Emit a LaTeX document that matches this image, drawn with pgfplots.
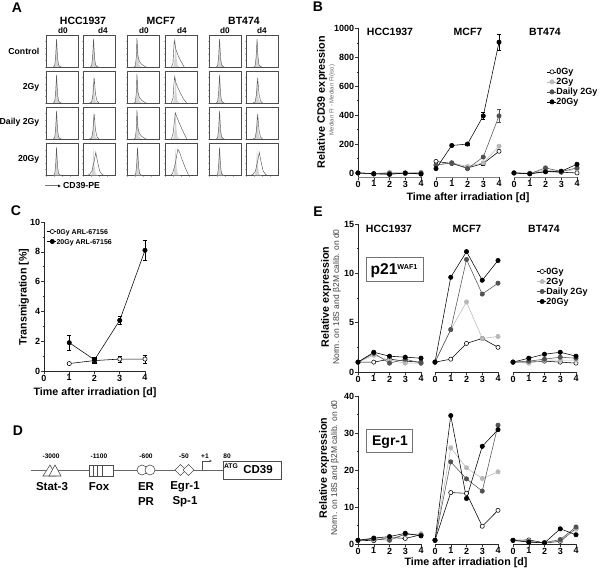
\documentclass[border=0pt]{standalone}
\usepackage{pgfplots}
\pgfplotsset{compat=1.18}
\usepackage{pgfplotstable}
\usepackage{fontspec}
\setmainfont{Liberation Sans}
\usetikzlibrary{arrows.meta}
\newcommand\fs[1]{\fontsize{#1}{#1}\selectfont}

% panel A histograms: isotype fill and CD39 outline, x and y in percent of the box
\pgfplotstableread{
x y
23 0
27 4
30 30
33 88
36 30
39 7
43 2
48 0
}\hN
\pgfplotstableread{
x y
20 0
27 3
31 25
35 78
39 28
44 6
50 0
}\hW
\pgfplotstableread{
x y
12 0
20 3
28 14
36 50
40 72
44 50
52 14
60 3
66 0
}\hB
\pgfplotstableread{
x y
22 0
26 3
29 30
31 90
34 35
39 17
46 8
54 3
60 0
}\hT
\pgfplotstableread{
x y
20 0
25 12
27 50
29 84
34 55
42 33
52 14
60 0
}\hU
\pgfplotstableread{
x y
20 0
25 15
28 60
30 82
35 60
46 35
58 12
68 0
}\hV
\pgfplotstableread{
x y
20 0
25 15
30 60
32 82
38 66
48 42
60 16
68 0
}\hX
\pgfplotstableread{
x y
18 0
24 8
32 36
40 82
46 72
54 48
66 18
74 0
}\hY

% panel B, relative CD39
\pgfplotstableread{
d a b c e
0 0 0 0 0
1 -5 -5 -8 -5
2 -6 5 -2 -10
3 -2 0 -3 0
4 -5 5 0 -8
}\bH
\pgfplotstableread{
d a b c e ea eb ec ee
0 80 55 55 30 5 5 5 5
1 65 70 70 190 5 5 5 8
2 35 45 30 200 5 5 5 8
3 65 70 110 395 8 8 8 25
4 150 185 395 905 8 8 45 55
}\bM
\pgfplotstableread{
d a b c e
0 0 0 0 0
1 -5 0 -5 -6
2 10 20 35 8
3 5 10 10 12
4 0 25 35 60
}\bB

% panel C
\pgfplotstableread{
d a ea e ee
1 0.5 0.05 1.9 0.5
2 0.7 0.15 0.75 0.15
3 0.8 0.2 3.4 0.25
4 0.8 0.25 8.1 0.65
}\cT

% panel E, p21
\pgfplotstableread{
d a b c e
0 1 1 1 1
1 1 1.7 1.9 2.0
2 1.3 1.2 0.9 1.6
3 1.1 0.9 1.3 1.5
4 1.0 0.9 0.9 1.4
}\pH
\pgfplotstableread{
d a b c e
0 1 1 1 1
1 1.3 4.3 4.3 9.6
2 2.9 7.1 11.4 12.2
3 3.4 3.4 7.9 9.3
4 2.5 3.6 9.0 11.3
}\pM
\pgfplotstableread{
d a b c e
0 1 1 1 1
1 1 0.9 1.1 1.4
2 1.1 1.2 1.3 1.8
3 1.0 1.2 1.5 2.0
4 0.9 1.2 1.4 1.6
}\pB

% panel E, Egr-1
\pgfplotstableread{
d a b c e
0 1 1 1 1
1 0.9 1.3 1.4 1.6
2 1.8 1.5 1.0 2.0
3 1.5 2.5 2.7 2.9
4 2.5 2.8 2.4 2.2
}\eH
\pgfplotstableread{
d a b c e
0 1 1 1 1
1 13.9 26 22.2 34.7
2 13.7 20.6 17.6 12.3
3 4.8 17.7 14.3 26.4
4 9.1 19.5 32.1 30.9
}\eM
\pgfplotstableread{
d a b c e
0 1 1 1 1
1 1.1 0.8 0.6 0.5
2 0.3 0.3 0.4 0.3
3 0.7 1.0 1.2 4.1
4 4.2 4.0 4.6 2.5
}\eB

\pgfplotsset{
  histax/.style={
    scale only axis, width=32pt, height=32pt, anchor=south west,
    xmin=0, xmax=100, ymin=0, ymax=100,
    xtick={0,25,50,75}, ytick={0,20,40,60,80},
    xticklabels={}, yticklabels={},
    tick pos=left, tick align=outside, major tick length=1.2pt,
    tick style={gray!60, line width=0.3pt},
    axis line style={black!70, line width=0.8pt},
  },
  lineax/.style={
    scale only axis, anchor=south west, clip=false,
    xmin=0, xmax=4, xtick={0,1,2,3,4}, minor x tick num=1,
    tick align=outside, major tick length=2.6pt, minor tick length=1.4pt,
    tick style={black!80, line width=0.5pt},
    axis line style={black!85, line width=0.6pt},
    axis x line*=bottom,
    tick label style={font=\bfseries\fs{9}, inner sep=1pt},
    /pgf/number format/assume math mode=true,
    /pgf/number format/1000 sep={},
    xtick pos=lower,
  },
  yon/.style={axis y line*=left, ytick pos=left},
  yoff/.style={axis y line=none},
  grayx/.style={x axis line style={black!50, line width=0.9pt}},
  s0/.style={black, line width=0.55pt, mark=*, mark size=2.1pt, mark options={fill=white, draw=black}},
  s2/.style={black!28, line width=0.55pt, mark=*, mark size=2.2pt, mark options={fill=black!28, draw=black!28}},
  sd/.style={black!68, line width=0.55pt, mark=*, mark size=2.2pt, mark options={fill=black!68, draw=black!68}},
  s20/.style={black, line width=0.55pt, mark=*, mark size=2.2pt, mark options={fill=black, draw=black}},
  legbox/.style={
    legend style={draw=none, fill=none, font=\bfseries\fs{#1}, inner sep=0pt, outer sep=0pt,
      row sep=2pt, nodes={inner sep=0pt, text height=6.5pt, text depth=1.5pt},
      /tikz/every even column/.append style={column sep=2pt}},
    legend cell align=left,
    legend image code/.code={
      \draw[mark repeat=2,mark phase=2,##1] plot coordinates {(-2pt,0pt) (3pt,0pt) (7pt,0pt)};
    },
  },
}
\newcommand\hist[4]{%
  \begin{axis}[histax, at={(#1pt,{570pt-#2pt})}]
    \addplot[fill=black!16, draw=none] table[x=x,y=y] {\hN} \closedcycle;
    \ifx#3\hN\else\ifx#3\hT\else
      \addplot[fill=black!16, draw=none] table[x=x,y=y] {#4} \closedcycle;
    \fi\fi
    \addplot[black!65, line width=0.45pt] table[x=x,y=y] {#3};
  \end{axis}}
\newcommand\series[1]{%
  \addplot[s0] table[x=d,y=a] {#1};
  \addplot[s2] table[x=d,y=b] {#1};
  \addplot[sd] table[x=d,y=c] {#1};
  \addplot[s20] table[x=d,y=e] {#1};}

\begin{document}
\begin{tikzpicture}
\path[use as bounding box] (0pt,0pt) rectangle (600pt,570pt);

% A
\hist{46}{67}{\hN}{\hN}  \hist{83}{67}{\hN}{\hN}  \hist{127}{67}{\hT}{\hN}  \hist{165}{67}{\hU}{\hW}  \hist{209}{67}{\hN}{\hN}  \hist{246.5}{67}{\hN}{\hN}
\hist{46}{103}{\hN}{\hN} \hist{83}{103}{\hW}{\hW} \hist{127}{103}{\hT}{\hN} \hist{165}{103}{\hV}{\hW} \hist{209}{103}{\hN}{\hN} \hist{246.5}{103}{\hW}{\hW}
\hist{46}{139}{\hN}{\hN} \hist{83}{139}{\hW}{\hW} \hist{127}{139}{\hT}{\hN} \hist{165}{139}{\hX}{\hW} \hist{209}{139}{\hN}{\hN} \hist{246.5}{139}{\hW}{\hW}
\hist{46}{175.5}{\hN}{\hN} \hist{83}{175.5}{\hB}{\hB} \hist{127}{175.5}{\hN}{\hN} \hist{165}{175.5}{\hY}{\hB} \hist{209}{175.5}{\hN}{\hN} \hist{246.5}{175.5}{\hB}{\hB}

% B
\begin{axis}[lineax, yon, grayx, at={(358pt,{570pt-177pt})}, width=63pt, height=148.5pt,
  ymin=-28, ymax=1000, ytick={0,200,400,600,800,1000}, minor y tick num=1]
  \series{\bH}
\end{axis}
\begin{axis}[lineax, yoff, grayx, at={(436pt,{570pt-177pt})}, width=63pt, height=148.5pt,
  ymin=-28, ymax=1000]
  \addplot[s0, error bars/.cd, y dir=both, y explicit] table[x=d,y=a,y error=ea] {\bM};
  \addplot[s2, error bars/.cd, y dir=both, y explicit] table[x=d,y=b,y error=eb] {\bM};
  \addplot[sd, error bars/.cd, y dir=both, y explicit] table[x=d,y=c,y error=ec] {\bM};
  \addplot[s20, error bars/.cd, y dir=both, y explicit] table[x=d,y=e,y error=ee] {\bM};
\end{axis}
\begin{axis}[lineax, yoff, grayx, legbox=9, at={(514pt,{570pt-177pt})}, width=63pt, height=148.5pt,
  ymin=-28, ymax=1000,
  legend style={at={(0.52,0.735)}, anchor=north west}]
  \series{\bB}
  \legend{0Gy,2Gy,Daily 2Gy,20Gy}
\end{axis}

% C
\begin{axis}[lineax, yon, legbox=7, at={(44pt,{570pt-371pt})}, width=101pt, height=149pt,
  ymin=0, ymax=10, ytick={0,2,4,6,8,10}, minor y tick num=1,
  legend style={at={(0.03,0.963)}, anchor=north west}]
  \addplot[s0, error bars/.cd, y dir=both, y explicit] table[x=d,y=a,y error=ea] {\cT};
  \addplot[s20, error bars/.cd, y dir=both, y explicit] table[x=d,y=e,y error=ee] {\cT};
  \legend{0Gy ARL-67156,20Gy ARL-67156}
\end{axis}

% E, p21
\begin{axis}[lineax, yon, at={(358pt,{570pt-372pt})}, width=63pt, height=148pt,
  ymin=0, ymax=15, ytick={0,5,10,15}, minor y tick num=1]
  \series{\pH}
\end{axis}
\begin{axis}[lineax, yoff, at={(435pt,{570pt-372pt})}, width=63pt, height=148pt, ymin=0, ymax=15]
  \series{\pM}
\end{axis}
\begin{axis}[lineax, yoff, legbox=9, at={(513pt,{570pt-372pt})}, width=63pt, height=148pt, ymin=0, ymax=15,
  legend style={at={(0.38,0.706)}, anchor=north west}]
  \series{\pB}
  \legend{0Gy,2Gy,Daily 2Gy,20Gy}
\end{axis}

% E, Egr-1
\begin{axis}[lineax, yon, at={(358pt,{570pt-544pt})}, width=63pt, height=148pt,
  ymin=0, ymax=40, ytick={0,10,20,30,40}, minor y tick num=1]
  \series{\eH}
\end{axis}
\begin{axis}[lineax, yoff, at={(435pt,{570pt-544pt})}, width=63pt, height=148pt, ymin=0, ymax=40]
  \series{\eM}
\end{axis}
\begin{axis}[lineax, yoff, at={(513pt,{570pt-544pt})}, width=63pt, height=148pt, ymin=0, ymax=40]
  \series{\eB}
\end{axis}

% texts and the promoter sketch, coordinates in image pixels
\begin{scope}[x=1pt, y=-1pt, yshift=570pt, every node/.style={inner sep=0pt, font=\bfseries\fs{8.7}}]
  \node[font=\bfseries\fs{14}] at (17,8) {A};
  \node[font=\bfseries\fs{14}] at (318,7) {B};
  \node[font=\bfseries\fs{14}] at (16,211) {C};
  \node[font=\bfseries\fs{14}] at (18,431) {D};
  \node[font=\bfseries\fs{14}] at (318,212) {E};

  \foreach \x/\t in {83/HCC1937,161/MCF7,244/BT474}
    \node[font=\bfseries\fs{10.5}] at (\x,21) {\t};
  \foreach \x/\t in {63/d0,103/d4,144/d0,182/d4,225/d0,262/d4}
    \node[font=\bfseries\fs{8.2}] at (\x,31) {\t};
  \foreach \y/\t in {51/Control,87/2Gy,122/Daily 2Gy,159/20Gy}
    \node[anchor=east] at (39.5,\y) {\t};
  \draw[black!55, line width=1pt, -{Latex[length=3pt,width=3pt,black]}] (45,186) -- (61,186);
  \node[anchor=west] at (63,186) {CD39-PE};

  \foreach \x/\t in {390/HCC1937,468/MCF7,545/BT474} {
    \node[font=\bfseries\fs{10.5}] at (\x,32) {\t};
    \node[font=\bfseries\fs{10.5}] at (\x-1,229) {\t};
  }
  \node[rotate=90, font=\bfseries\fs{10.8}] at (322,102) {Relative CD39 expression};
  \node[rotate=90, font=\fs{6}, text=black!60] at (332,100) {Median FI - Median FI(iso)};
  \node[font=\bfseries\fs{10.7}] at (468,198) {Time after irradiation [d]};

  \node[rotate=90, font=\bfseries\fs{10.7}] at (24,297) {Transmigration [\%]};
  \node[font=\bfseries\fs{10.7}] at (95,392.5) {Time after irradiation [d]};

  \node[rotate=90, font=\bfseries\fs{10.7}] at (326,297) {Relative expression};
  \node[rotate=90, font=\fs{8.5}, text=black!75] at (337,297) {Norm. on 18S and β2M calib. on d0};
  \node[rotate=90, font=\bfseries\fs{10.7}] at (324,468) {Relative expression};
  \node[rotate=90, font=\fs{8.5}, text=black!75] at (335,468) {Norm. on 18S and β2M calib. on d0};
  \node[font=\bfseries\fs{10.7}] at (466,563) {Time after irradiation [d]};

  \draw[black!55, line width=1pt, fill=white] (366,258) rectangle (423,282);
  \node[font=\bfseries\fs{15.6}] at (394,271) {p21\raisebox{5.5pt}{\fs{7.2}WAF1}};
  \draw[black!55, line width=1pt, fill=white] (366,430) rectangle (412,453);
  \node[font=\bfseries\fs{14}] at (390,442) {Egr-1};

  % D
  \draw[black!60, line width=0.7pt] (31,470) -- (223,470);
  \begin{scope}[black!70, line width=0.6pt, fill=white]
    \draw[fill=white] (43,476) -- (50,465) -- (56,476) -- cycle;
    \draw[fill=white] (49,476) -- (55,465) -- (61,476) -- cycle;
    \draw[fill=white] (89,465) rectangle (113,476);
    \draw (93,465) -- (93,476) (97,465) -- (97,476) (102,465) -- (102,476);
    \draw[fill=white] (142,470) circle (5);
    \draw[fill=white] (150,470) circle (5);
    \draw[fill=white] (175,470) -- (180.5,464.5) -- (186,470) -- (180.5,475.5) -- cycle;
    \draw[fill=white] (183,470) -- (188.5,464.5) -- (194,470) -- (188.5,475.5) -- cycle;
    \draw[-{Latex[length=2.5pt,width=2.5pt]}] (202,470) -- (202,461) -- (212,461);
    \draw[fill=white] (223,461) rectangle (281,479);
  \end{scope}
  \foreach \x/\t in {51/-3000,99/-1100,146/-600,184/-50,205/+1,227/80}
    \node[font=\bfseries\fs{6.6}] at (\x,456) {\t};
  \node[font=\bfseries\fs{6.8}] at (231,466) {ATG};
  \node[font=\bfseries\fs{11.5}] at (258,470) {CD39};
  \foreach \x/\t in {52/Stat-3,99/Fox,146/ER,185/Egr-1}
    \node[font=\bfseries\fs{11.5}] at (\x,487) {\t};
  \foreach \x/\t in {146/PR,185/Sp-1}
    \node[font=\bfseries\fs{11.5}] at (\x,502) {\t};
\end{scope}
\end{tikzpicture}
\end{document}
